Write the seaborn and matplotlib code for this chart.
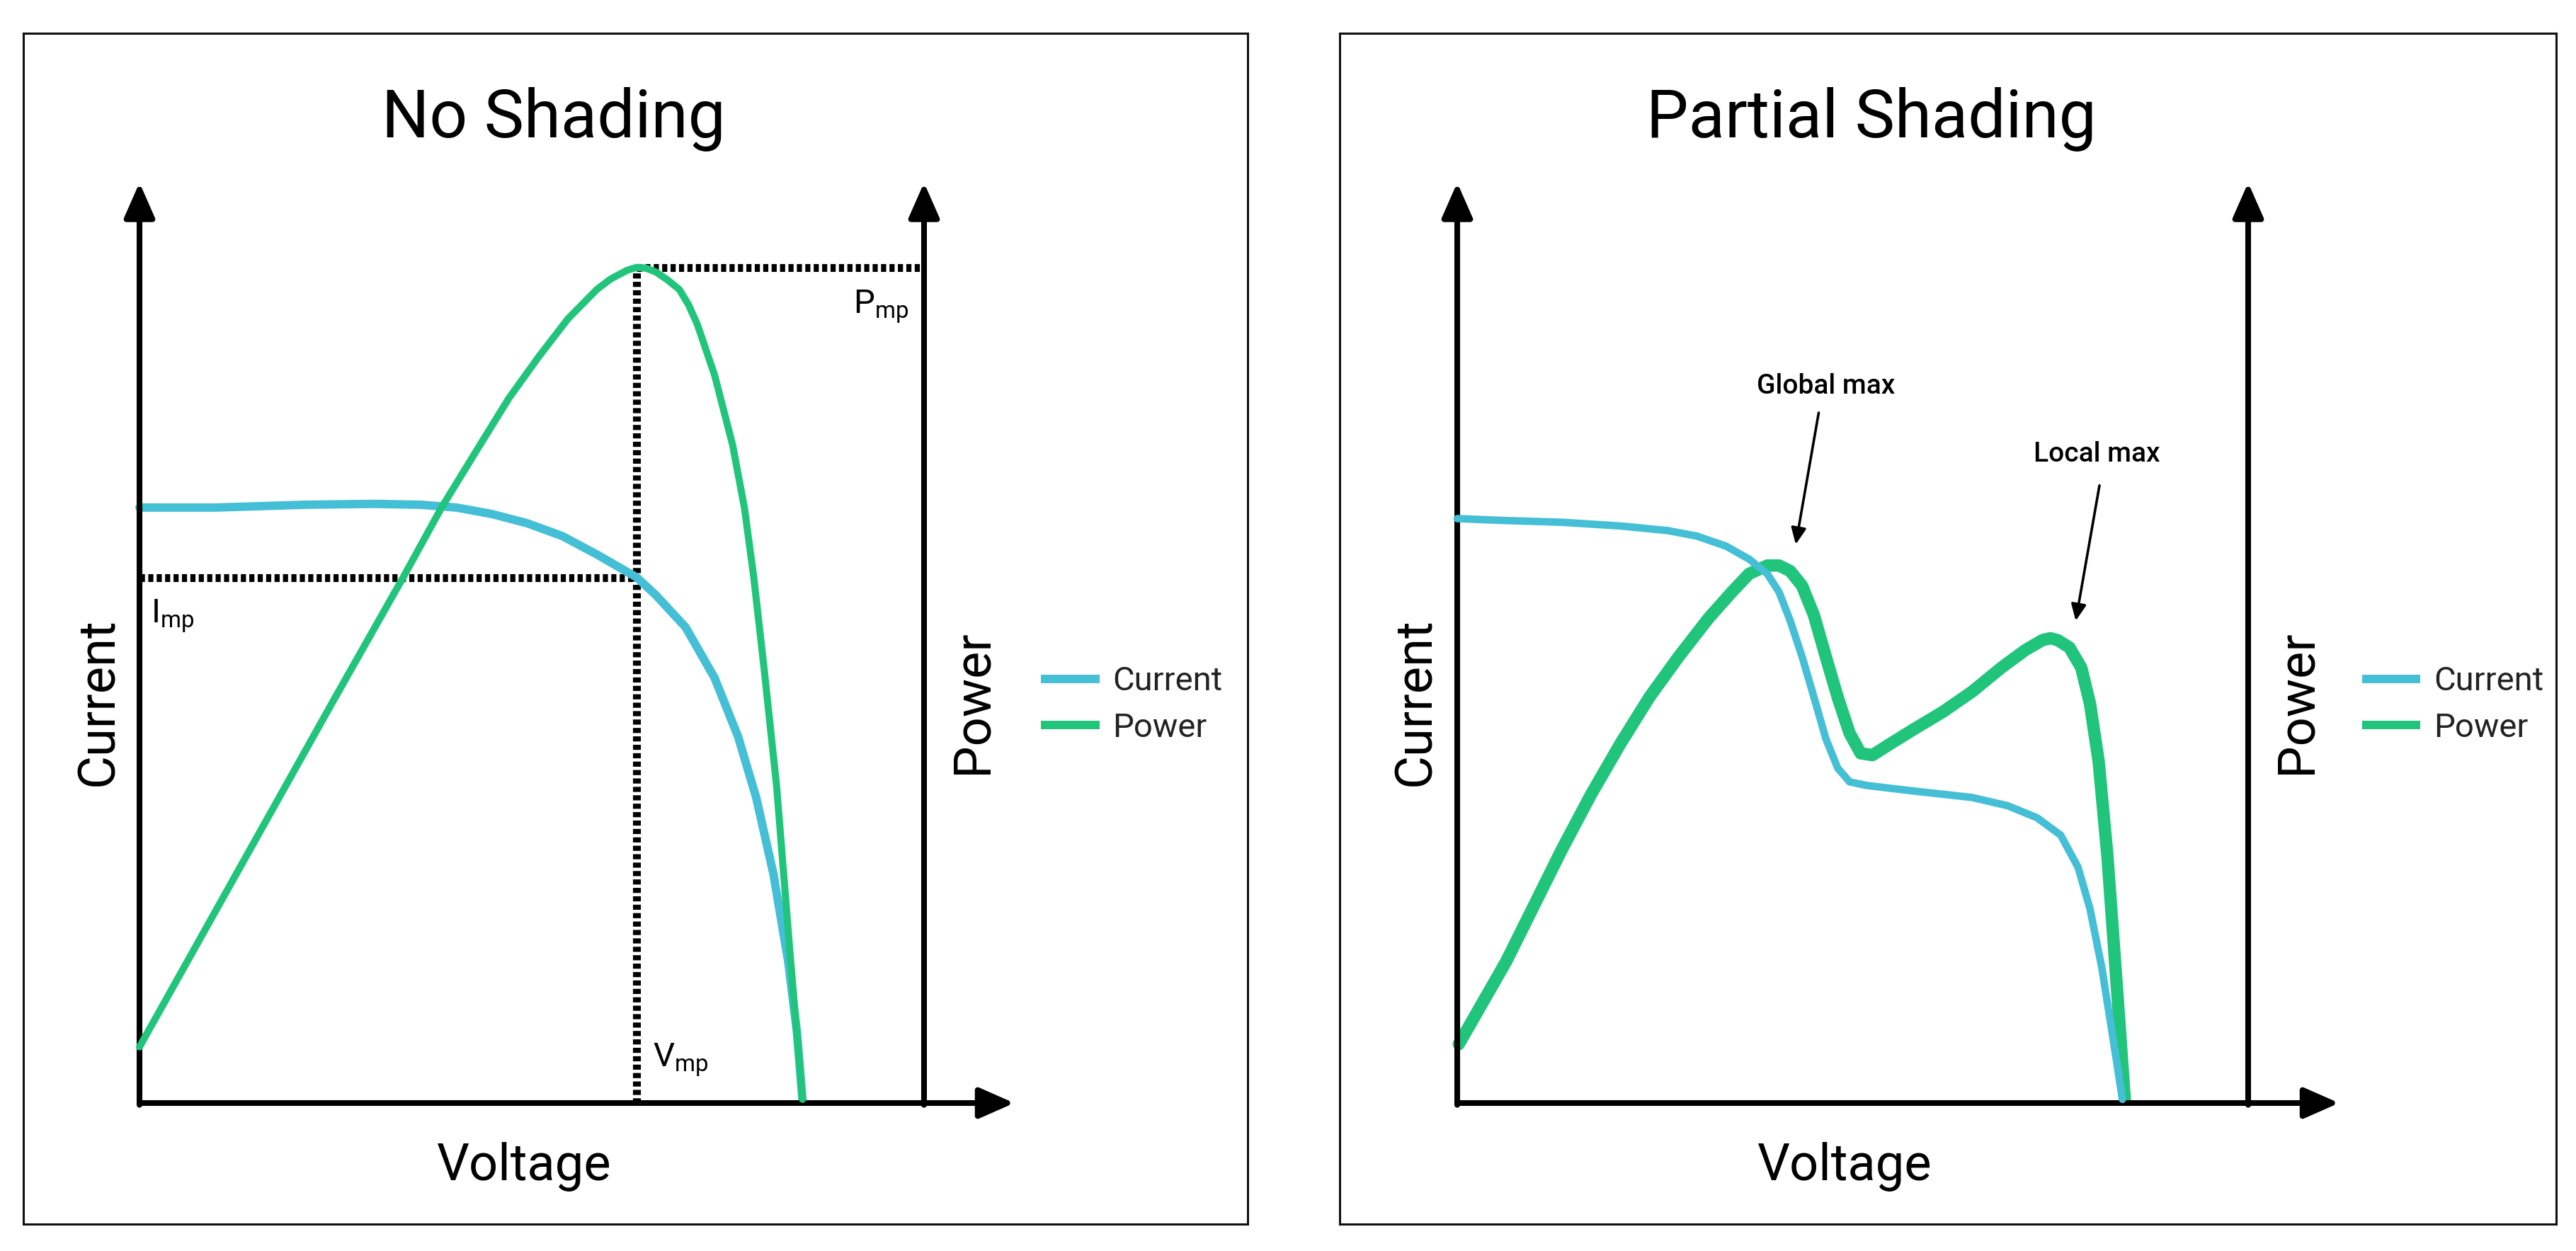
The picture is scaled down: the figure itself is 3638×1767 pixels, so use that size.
import matplotlib
matplotlib.use('Agg')
import matplotlib.pyplot as plt
import seaborn as sns

# ---- No Shading (voltage, value) ----
ns_cur_v = [0.00, 0.97, 2.09, 2.99, 3.59, 4.04, 4.49, 4.94, 5.39, 5.83, 6.34,
            6.58, 6.96, 7.33, 7.63, 7.86, 8.08, 8.27, 8.38, 8.45]
ns_cur_i = [6.47, 6.47, 6.50, 6.51, 6.50, 6.47, 6.40, 6.30, 6.16, 5.96, 5.71,
            5.52, 5.17, 4.62, 3.98, 3.32, 2.49, 1.53, 0.77, 0.04]
ns_pow_v = [0.00, 1.34, 2.47, 3.36, 3.85, 4.34, 4.71, 5.09, 5.46, 5.83, 6.00,
            6.13, 6.22, 6.34, 6.46, 6.58, 6.72, 6.88, 7.00, 7.11, 7.33, 7.56,
            7.71, 7.83, 7.96, 8.12, 8.30, 8.45]
ns_pow_p = [0.61, 2.65, 4.37, 5.71, 6.47, 7.15, 7.66, 8.11, 8.52, 8.84, 8.95,
            9.01, 9.05, 9.08, 9.07, 9.03, 8.95, 8.84, 8.67, 8.46, 7.91, 7.15,
            6.47, 5.71, 4.73, 3.45, 1.54, 0.04]
vmp, imp, pmp = 6.34, 5.71, 9.08

# ---- Partial Shading ----
ps_cur_v = [0.00, 0.58, 1.32, 2.06, 2.66, 3.03, 3.40, 3.69, 3.92, 4.07, 4.21,
            4.36, 4.51, 4.66, 4.81, 4.96, 5.18, 5.77, 6.51, 6.96, 7.33, 7.63,
            7.85, 8.00, 8.15, 8.29, 8.41]
ps_cur_i = [6.35, 6.33, 6.31, 6.27, 6.22, 6.16, 6.05, 5.91, 5.75, 5.55, 5.24,
            4.85, 4.41, 3.96, 3.64, 3.49, 3.45, 3.39, 3.32, 3.23, 3.10, 2.91,
            2.56, 2.11, 1.47, 0.71, 0.04]
ps_pow_v = [0.02, 0.28, 0.62, 0.95, 1.32, 1.69, 2.06, 2.43, 2.80, 3.18, 3.47,
            3.69, 3.92, 4.07, 4.21, 4.36, 4.51, 4.66, 4.81, 4.96, 5.10, 5.25,
            5.47, 5.77, 6.14, 6.51, 6.88, 7.18, 7.40, 7.50, 7.59, 7.74, 7.89,
            8.00, 8.11, 8.22, 8.29, 8.37, 8.44]
ps_pow_p = [0.64, 1.03, 1.54, 2.11, 2.75, 3.35, 3.90, 4.41, 4.85, 5.27, 5.55,
            5.75, 5.84, 5.84, 5.78, 5.62, 5.30, 4.85, 4.41, 4.02, 3.80, 3.78,
            3.90, 4.06, 4.25, 4.47, 4.73, 4.92, 5.03, 5.05, 5.03, 4.95, 4.73,
            4.34, 3.71, 2.69, 1.86, 0.90, 0.04]

BLUE = '#45BFD6'
GREEN = '#21C47B'

sns.set_theme(style='white')
plt.rcParams['font.family'] = ['Roboto', 'DejaVu Sans']
plt.rcParams['text.color'] = 'black'
plt.rcParams['lines.solid_joinstyle'] = 'round'
plt.rcParams['lines.solid_capstyle'] = 'round'

fig = plt.figure(figsize=(18.19, 8.835), dpi=200)
W, H = 3638, 1767


def panel(x0, x1, ox, sx, oy=1558, sy=130.0, y0=47, y1=1729):
    # axes = the framed box; data units put the origin at pixel (ox, oy)
    ax = fig.add_axes([x0 / W, (H - y1) / H, (x1 - x0) / W, (y1 - y0) / H])
    ax.set_xlim((x0 - ox) / sx, (x1 - ox) / sx)
    ax.set_ylim((oy - y1) / sy, (oy - y0) / sy)
    ax.set_xticks([])
    ax.set_yticks([])
    for s in ax.spines.values():
        s.set_visible(True)
        s.set_color('#111111')
        s.set_linewidth(1.1)
    # axis arrows
    kw = dict(arrowstyle='-|>,head_length=0.75,head_width=0.33', color='black',
              lw=2.9, mutation_scale=20, shrinkA=0, shrinkB=0)
    ax.annotate('', xy=(11.15, 0), xytext=(0, 0), arrowprops=kw)
    ax.annotate('', xy=(0, 10.0), xytext=(0, -0.02), arrowprops=kw)
    ax.annotate('', xy=(10, 10.0), xytext=(10, -0.02), arrowprops=kw)
    ax.text(4.9, -0.84, 'Voltage', fontsize=26, ha='center', va='baseline')
    ax.text(-0.52, 4.36, 'Current', fontsize=26, rotation=90, ha='center', va='center')
    ax.text(10.62, 4.36, 'Power', fontsize=26, rotation=90, ha='center', va='center')
    return ax


def legend(ax, x, handles=None, labels=None):
    if handles is None:
        handles, labels = ax.get_legend_handles_labels()
    leg = ax.legend(handles, labels, loc='center left', bbox_to_anchor=(x, 4.33),
                    bbox_transform=ax.transData, frameon=False, fontsize=17,
                    handlelength=1.75, handletextpad=0.4, labelspacing=0.45,
                    borderpad=0, borderaxespad=0)
    for ln in leg.get_lines():
        ln.set_linewidth(4.3)
        ln.set_solid_capstyle('butt')
    for t in leg.get_texts():
        t.set_color('#222222')


# ---------------- left: No Shading ----------------
ax1 = panel(33, 1762, ox=197, sx=110.8)
ax1.text(5.28, 10.49, 'No Shading', fontsize=34, ha='center', va='baseline')
dot = dict(color='black', lw=4, linestyle=(0, (0.65, 0.42)), zorder=1)
ax1.plot([vmp, vmp], [0, pmp], **dot)
ax1.plot([vmp, 10], [pmp, pmp], **dot)
ax1.plot([0, vmp], [imp, imp], **dot)
sns.lineplot(x=ns_cur_v, y=ns_cur_i, ax=ax1, color=BLUE, linewidth=4.3,
             sort=False, estimator=None, label='Current', zorder=2)
sns.lineplot(x=ns_pow_v, y=ns_pow_p, ax=ax1, color=GREEN, linewidth=3.6,
             sort=False, estimator=None, label='Power', zorder=3)
ax1.text(9.8, 8.85, 'P$_{\\mathregular{mp}}$', fontsize=17, ha='right', va='top')
ax1.text(0.14, 5.49, 'I$_{\\mathregular{mp}}$', fontsize=17, ha='left', va='top')
ax1.text(6.54, 0.66, 'V$_{\\mathregular{mp}}$', fontsize=17, ha='left', va='top')
legend(ax1, 11.49)

# ---------------- right: Partial Shading ----------------
ax2 = panel(1892, 3610, ox=2058, sx=111.7)
ax2.text(5.24, 10.49, 'Partial Shading', fontsize=34, ha='center', va='baseline')
sns.lineplot(x=ps_pow_v, y=ps_pow_p, ax=ax2, color=GREEN, linewidth=6.3,
             sort=False, estimator=None, label='Power', zorder=2)
sns.lineplot(x=ps_cur_v, y=ps_cur_i, ax=ax2, color=BLUE, linewidth=3.8,
             sort=False, estimator=None, label='Current', zorder=3)
akw = dict(arrowstyle='-|>,head_length=0.7,head_width=0.32', color='black',
           lw=1.3, mutation_scale=10, shrinkA=0, shrinkB=0)
ax2.text(4.66, 7.79, 'Global max', fontsize=14, fontweight='medium', ha='center', va='center')
ax2.annotate('', xy=(4.28, 6.07), xytext=(4.57, 7.50), arrowprops=akw)
ax2.text(8.09, 7.05, 'Local max', fontsize=14, fontweight='medium', ha='center', va='center')
ax2.annotate('', xy=(7.82, 5.24), xytext=(8.12, 6.71), arrowprops=akw)
h, l = ax2.get_legend_handles_labels()
order = [l.index('Current'), l.index('Power')]
legend(ax2, 11.44, [h[i] for i in order], [l[i] for i in order])

fig.savefig('out.png', dpi=200, facecolor='white')
